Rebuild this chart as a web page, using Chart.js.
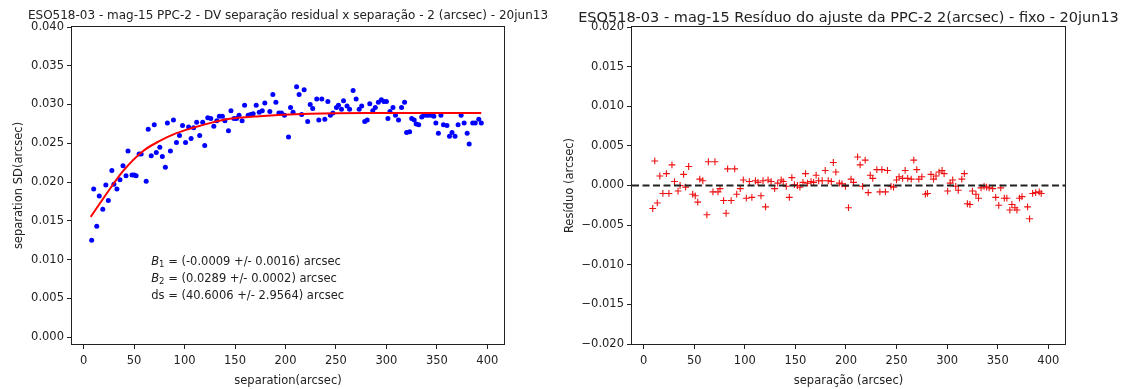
<!DOCTYPE html>
<html>
<head>
<meta charset="utf-8">
<script src="https://cdn.jsdelivr.net/npm/chart.js@4.4.0/dist/chart.umd.min.js"></script>
<style>
html, body { margin: 0; padding: 0; background: #fff; overflow: hidden; width: 1124px; height: 389px; }
#wrap { position: relative; width: 1124px; height: 389px; }
canvas { position: absolute; top: 0; }
#sepChart { left: 0; }
#resChart { left: 560px; }
</style>
</head>
<body>
<div id="wrap">
  <canvas id="sepChart" width="576" height="389"></canvas>
  <canvas id="resChart" width="577" height="389"></canvas>
</div>
<script>
// separation SD per point (left panel)
const sepX = [8, 10, 13, 15.5, 19, 22, 24.5, 28, 30, 33, 36, 39, 42, 44, 48, 50, 52, 55, 57, 62,
  64, 67, 70, 72, 75.5, 78, 81, 83, 86, 89, 92, 95, 98, 101, 104, 106.5, 109, 112, 115, 118,
  120, 123, 126, 129, 132, 134.5, 137.5, 140, 143.5, 146, 149, 151.5, 154, 157, 159.5, 163, 165.5, 168, 171, 174,
  177, 179.5, 184.5, 187.5, 190.5, 193.5, 196, 199, 203, 205, 207.5, 211, 213.5, 216, 218.5, 222, 224.5, 227, 231, 233,
  236, 239, 242, 244.5, 247, 250.5, 252.5, 255.5, 257.5, 261, 263.5, 267, 270, 273, 275.5, 278.5, 281, 283.5, 286.5, 289,
  292, 295, 297.5, 300, 301.5, 303.5, 306.5, 309, 312, 315, 318, 320, 323, 325, 327.5, 329.5, 332, 335, 337, 339.5,
  342, 345, 347, 349, 351.5, 354, 356.5, 360, 362.5, 365, 368, 371, 374, 377, 380, 382, 385.5, 388, 391.5, 394];
const sepSD = [0.0125, 0.0191, 0.0143, 0.0182, 0.0165, 0.0196, 0.0176, 0.0215, 0.0197, 0.0191, 0.0203, 0.0221, 0.0208, 0.0240, 0.0209, 0.0209, 0.0208, 0.0236, 0.0236, 0.0201,
  0.0268, 0.0234, 0.0274, 0.0238, 0.0245, 0.0233, 0.0219, 0.0276, 0.0240, 0.0280, 0.0251, 0.0260, 0.0273, 0.0251, 0.0271, 0.0256, 0.0270, 0.0277, 0.0260, 0.0277,
  0.0247, 0.0283, 0.0282, 0.0272, 0.0279, 0.0285, 0.0285, 0.0279, 0.0266, 0.0292, 0.0282, 0.0282, 0.0286, 0.0279, 0.0299, 0.0286, 0.0287, 0.0288, 0.0299, 0.0290,
  0.0292, 0.0302, 0.0291, 0.0313, 0.0303, 0.0289, 0.0289, 0.0286, 0.0258, 0.0296, 0.0290, 0.0323, 0.0313, 0.0287, 0.0319, 0.0278, 0.0300, 0.0295, 0.0307, 0.0280,
  0.0307, 0.0281, 0.0304, 0.0286, 0.0289, 0.0296, 0.0299, 0.0294, 0.0305, 0.0298, 0.0294, 0.0318, 0.0307, 0.0294, 0.0298, 0.0278, 0.0280, 0.0301, 0.0292, 0.0296,
  0.0303, 0.0306, 0.0304, 0.0304, 0.0282, 0.0291, 0.0296, 0.0286, 0.0280, 0.0296, 0.0303, 0.0264, 0.0265, 0.0282, 0.0280, 0.0275, 0.0274, 0.0284, 0.0286, 0.0286,
  0.0286, 0.0286, 0.0285, 0.0276, 0.0263, 0.0286, 0.0274, 0.0273, 0.0259, 0.0264, 0.0259, 0.0274, 0.0286, 0.0276, 0.0263, 0.0249, 0.0276, 0.0276, 0.0281, 0.0276];

// fitted curve
const fitX = [7, 26, 39, 59, 75.5, 92, 108.5, 125, 141.5, 174.5, 224, 280, 394];
const fitY = [0.0155, 0.0191, 0.0214, 0.0240, 0.0253, 0.0263, 0.0270, 0.0276, 0.0281, 0.0285, 0.0288, 0.0289, 0.0289];

// residuals (right panel)
const resX = [9, 11, 13.5, 16, 19, 22.5, 25, 28, 30.5, 34, 36, 39.5, 41.5, 44.5, 48.5, 51, 53.5, 55.5, 58.5, 62.5,
  64, 68.5, 70.5, 73.5, 75.5, 79, 81.5, 83, 86.5, 90, 92, 95.5, 98.5, 101.5, 104.5, 107, 110.5, 113, 116, 118,
  120.5, 123, 126, 129.5, 132.5, 136, 138, 141, 144, 146.5, 149, 152, 154.5, 157.5, 160, 162, 165.5, 168, 170.5, 173,
  176.5, 179.5, 182.5, 185.5, 187.5, 190, 193.5, 196, 199.5, 202.5, 205, 207.5, 211.5, 214, 216.5, 219, 222, 224, 226.5, 230.5,
  233.5, 235.5, 239, 241, 244.5, 247, 250, 252.5, 256, 258.5, 261, 264.5, 267, 270, 272, 275, 278.5, 280.5, 284, 286.5,
  289, 292, 295, 297, 300.5, 303, 305.5, 308.5, 311, 314.5, 317, 320, 322.5, 325, 328.5, 331, 333.5, 336.5, 339, 341.5,
  345, 348, 351, 353, 356.5, 359, 362, 364, 367, 369, 371.5, 374, 379.5, 381.5, 384.5, 387.5, 391, 393];
const resY = [-0.0029, 0.0031, -0.0022, 0.0012, -0.0010, 0.0015, -0.0010, 0.0026, 0.0005, -0.0007, 0.0000, 0.0014, -0.0002, 0.0024, -0.0011, -0.0013, -0.0021, 0.0008, 0.0006, -0.0037,
  0.0030, -0.0008, 0.0030, -0.0008, -0.0004, -0.0019, -0.0035, 0.0021, -0.0019, 0.0021, -0.0011, -0.0004, 0.0007, -0.0016, 0.0005, -0.0015, 0.0006, 0.0004, -0.0013, 0.0006,
  -0.0027, 0.0007, 0.0005, -0.0004, 0.0003, 0.0007, 0.0005, -0.0001, -0.0015, 0.0010, 0.0001, 0.0000, -0.0002, 0.0004, 0.0015, 0.0003, 0.0005, 0.0004, 0.0013, 0.0006,
  0.0006, 0.0019, 0.0006, 0.0005, 0.0029, 0.0017, 0.0003, 0.0002, -0.0001, -0.0028, 0.0008, 0.0004, 0.0036, 0.0026, -0.0001, 0.0032, -0.0009, 0.0013, 0.0009, 0.0020,
  -0.0008, 0.0020, -0.0008, 0.0019, -0.0001, -0.0002, 0.0007, 0.0011, 0.0009, 0.0019, 0.0009, 0.0008, 0.0032, 0.0020, 0.0008, 0.0011, -0.0011, -0.0010, 0.0014, 0.0008,
  0.0012, 0.0017, 0.0019, 0.0015, -0.0007, 0.0003, 0.0007, -0.0001, -0.0006, 0.0008, 0.0015, -0.0023, -0.0024, -0.0007, -0.0011, -0.0016, -0.0003, -0.0001, -0.0002, -0.0003,
  -0.0004, -0.0015, -0.0025, -0.0003, -0.0016, -0.0016, -0.0031, -0.0024, -0.0028, -0.0031, -0.0016, -0.0014, -0.0027, -0.0042, -0.0010, -0.0009, -0.0008, -0.0010];

const xRange = [-11.5, 416.5];
const xTicks = [0, 50, 100, 150, 200, 250, 300, 350, 400];
const sdTicks = [0, 0.005, 0.01, 0.015, 0.02, 0.025, 0.03, 0.035, 0.04];
const resTicks = [-0.02, -0.015, -0.01, -0.005, 0, 0.005, 0.01, 0.015, 0.02];
const zeroLine = [{x: xRange[0], y: 0}, {x: xRange[1], y: 0}];

const fitNotes = [
  {sym: 'B', sub: '1', text: ' = (-0.0009 +/- 0.0016) arcsec'},
  {sym: 'B', sub: '2', text: ' = (0.0289 +/- 0.0002) arcsec'},
  {sym: '', sub: '', text: 'ds = (40.6006 +/- 2.9564) arcsec'}
];
const noteX = 67;
const noteY = [0.0097, 0.0075, 0.0053];

const FONT = 'DejaVu Sans';
const INK = '#222';
const tickFont = {family: FONT, size: 11.5};
const labelFont = {family: FONT, size: 11.5};

const frame = {
  id: 'frame',
  afterDraw(chart) {
    const {ctx, chartArea: a} = chart;
    ctx.save();
    ctx.strokeStyle = INK;
    ctx.lineWidth = 1;
    ctx.strokeRect(a.left - 0.5, a.top - 0.5, a.right - a.left + 1, a.bottom - a.top + 1);
    ctx.restore();
  }
};

const notes = {
  id: 'notes',
  afterDatasetsDraw(chart) {
    const {ctx, scales: {x, y}} = chart;
    ctx.save();
    ctx.fillStyle = INK;
    ctx.textBaseline = 'middle';
    fitNotes.forEach((n, i) => {
      let px = x.getPixelForValue(noteX);
      const py = y.getPixelForValue(noteY[i]);
      if (n.sym) {
        ctx.font = 'italic 11.5px ' + FONT;
        ctx.fillText(n.sym, px, py);
        px += ctx.measureText(n.sym).width;
        ctx.font = '8.5px ' + FONT;
        ctx.fillText(n.sub, px, py + 3);
        px += ctx.measureText(n.sub).width;
      }
      ctx.font = '11.5px ' + FONT;
      ctx.fillText(n.text, px, py);
    });
    ctx.restore();
  }
};

function fmt(v) {
  if (Math.abs(v) < 1e-9) return '0.000';
  return (v < 0 ? '\u2212' : '') + Math.abs(v).toFixed(3);
}

function xAxis(title) {
  return {
    type: 'linear', min: xRange[0], max: xRange[1],
    afterBuildTicks: s => { s.ticks = xTicks.map(v => ({value: v})); },
    afterFit: s => { s.height = 45; },
    grid: {display: true, drawOnChartArea: false, drawTicks: true, tickLength: 5, color: INK},
    border: {display: false},
    ticks: {font: tickFont, color: INK, padding: 5, maxRotation: 0, autoSkip: false, callback: v => String(v)},
    title: {display: true, text: title, font: labelFont, color: INK, padding: {top: 0, bottom: 1}}
  };
}

function yAxis(title, min, max, ticks, pad) {
  return {
    type: 'linear', min: min, max: max,
    afterBuildTicks: s => { s.ticks = ticks.map(v => ({value: v})); },
    afterFit: s => { s.width = 72; },
    grid: {display: true, drawOnChartArea: false, drawTicks: true, tickLength: 5, color: INK},
    border: {display: false},
    ticks: {font: tickFont, color: INK, padding: 3, autoSkip: false, callback: v => fmt(v)},
    title: {display: true, text: title, font: labelFont, color: INK, padding: {top: pad, bottom: 0}}
  };
}

// empty right-hand box so the title centres over the plot area
const spacer = {
  type: 'linear', position: 'right',
  afterFit: s => { s.width = 72; },
  grid: {display: false},
  border: {display: false},
  ticks: {display: false}
};

new Chart(document.getElementById('sepChart'), {
  type: 'scatter',
  data: {
    datasets: [{
      data: fitX.map((x, i) => ({x, y: fitY[i]})),
      showLine: true,
      borderColor: '#ff0000',
      borderWidth: 2,
      pointRadius: 0,
      cubicInterpolationMode: 'monotone'
    }, {
      data: sepX.map((x, i) => ({x, y: sepSD[i]})),
      backgroundColor: '#0000ff',
      borderWidth: 0,
      pointRadius: 2.5
    }]
  },
  options: {
    responsive: false,
    animation: false,
    layout: {padding: 0},
    plugins: {
      legend: {display: false},
      tooltip: {enabled: false},
      title: {
        display: true,
        text: 'ESO518-03 - mag-15 PPC-2 - DV separação residual x separação - 2 (arcsec) - 20jun13',
        font: {family: FONT, size: 12, weight: 'normal'},
        color: INK,
        padding: {top: 8.3, bottom: 4.3}
      }
    },
    scales: {
      x: xAxis('separation(arcsec)'),
      y: yAxis('separation SD(arcsec)', -0.0009, 0.04, sdTicks, 12),
      y2: spacer
    }
  },
  plugins: [frame, notes]
});

new Chart(document.getElementById('resChart'), {
  type: 'scatter',
  data: {
    datasets: [{
      data: zeroLine,
      showLine: true,
      borderColor: INK,
      borderWidth: 1.8,
      borderDash: [7, 3.5],
      pointRadius: 0
    }, {
      data: resX.map((x, i) => ({x, y: resY[i]})),
      pointStyle: 'cross',
      borderColor: '#ee1111',
      borderWidth: 1.1,
      pointRadius: 3.4
    }]
  },
  options: {
    responsive: false,
    animation: false,
    layout: {padding: 0},
    plugins: {
      legend: {display: false},
      tooltip: {enabled: false},
      title: {
        display: true,
        text: 'ESO518-03 - mag-15 Resíduo do ajuste da PPC-2 2(arcsec) - fixo - 20jun13',
        font: {family: FONT, size: 14.5, weight: 'normal'},
        color: INK,
        padding: {top: 9.3, bottom: 0.3}
      }
    },
    scales: {
      x: xAxis('separação (arcsec)'),
      y: yAxis('Resíduo (arcsec)', -0.02, 0.02, resTicks, 3),
      y2: spacer
    }
  },
  plugins: [frame]
});
</script>
</body>
</html>
